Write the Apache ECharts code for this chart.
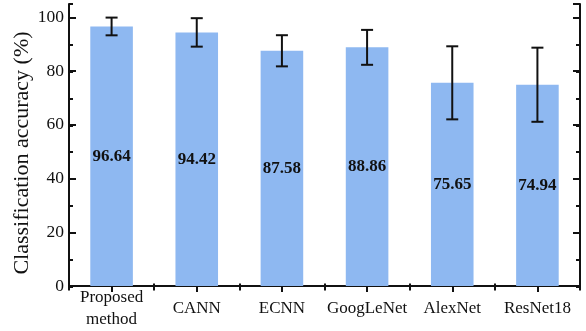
<!DOCTYPE html>
<html>
<head>
<meta charset="utf-8">
<script src="https://cdn.jsdelivr.net/npm/echarts@6/dist/echarts.min.js"></script>
<style>html,body{margin:0;padding:0;background:#fff;}#c{width:586px;height:331px;}</style>
</head>
<body>
<div id="c"></div>
<script>
const categories = ['Proposed\nmethod', 'CANN', 'ECNN', 'GoogLeNet', 'AlexNet', 'ResNet18'];
const accuracy = [96.64, 94.42, 87.58, 88.86, 75.65, 74.94];
const errors = [3.3, 5.3, 5.8, 6.5, 13.6, 13.8];
const yTicks = [0, 20, 40, 60, 80, 100];

const FONT = '"Liberation Serif", "Times New Roman", serif';
const INK = '#111';
const chart = echarts.init(document.getElementById('c'));

const gridRect = {left: 69, right: 6, top: 4, bottom: 44};
const errData = accuracy.map((v, i) => [i, v - errors[i], v + errors[i]]);

const lineStyle = {color: INK, width: 2};

chart.setOption({
  animation: false,
  grid: [Object.assign({}, gridRect), Object.assign({}, gridRect)],
  xAxis: [
    {gridIndex: 0, type: 'category', data: categories, position: 'bottom',
     axisLine: {show: true, lineStyle},
     axisTick: {show: true, inside: true, alignWithLabel: true, length: 6, lineStyle},
     axisLabel: {interval: 0, fontFamily: FONT, fontSize: 17, color: INK, margin: 23, verticalAlign: 'middle', lineHeight: 22}},
    {gridIndex: 0, type: 'category', data: categories, position: 'top',
     axisLine: {show: true, lineStyle},
     axisTick: {show: true, inside: true, alignWithLabel: true, length: 6, lineStyle},
     axisLabel: {show: false}},
    {gridIndex: 1, type: 'category', data: categories, position: 'bottom',
     axisLine: {show: false},
     axisTick: {show: true, inside: true, length: 3.5, lineStyle},
     axisLabel: {show: false}},
    {gridIndex: 1, type: 'category', data: categories, position: 'top',
     axisLine: {show: false},
     axisTick: {show: true, inside: true, length: 3.5, lineStyle},
     axisLabel: {show: false}}
  ],
  yAxis: [
    {gridIndex: 0, type: 'value', min: 0, max: 105, interval: 20, position: 'left',
     name: 'Classification accuracy (%)', nameLocation: 'middle', nameGap: 36, nameMoveOverlap: false,
     nameTextStyle: {fontFamily: FONT, fontSize: 22, color: INK, padding: [0, 16, 0, 0]},
     axisLine: {show: true, lineStyle},
     axisTick: {show: true, inside: true, length: 7, lineStyle},
     splitLine: {show: false},
     axisLabel: {fontFamily: FONT, fontSize: 17.5, color: INK, margin: 5, showMaxLabel: false,
                 formatter: v => (yTicks.indexOf(v) >= 0 ? String(v) : '')}},
    {gridIndex: 0, type: 'value', min: 0, max: 105, interval: 20, position: 'right',
     axisLine: {show: true, lineStyle},
     axisTick: {show: true, inside: true, length: 7, lineStyle},
     splitLine: {show: false},
     axisLabel: {show: false}},
    {gridIndex: 1, type: 'value', min: 0, max: 105, interval: 10, position: 'left',
     axisLine: {show: false},
     axisTick: {show: true, inside: true, length: 4, lineStyle},
     splitLine: {show: false}, axisLabel: {show: false}},
    {gridIndex: 1, type: 'value', min: 0, max: 105, interval: 10, position: 'right',
     axisLine: {show: false},
     axisTick: {show: true, inside: true, length: 4, lineStyle},
     splitLine: {show: false}, axisLabel: {show: false}}
  ],
  series: [
    {type: 'bar', xAxisIndex: 0, yAxisIndex: 0, data: accuracy, barWidth: '50%',
     itemStyle: {color: '#8eb8f1'},
     label: {show: true, position: 'inside', fontFamily: FONT, fontSize: 17, fontWeight: 'bold', color: INK,
             formatter: p => p.value.toFixed(2)},
     z: 2},
    {type: 'custom', xAxisIndex: 0, yAxisIndex: 0, data: errData, z: 5,
     renderItem: function (params, api) {
       const x = api.value(0);
       const lo = api.coord([x, api.value(1)]);
       const hi = api.coord([x, api.value(2)]);
       const hw = 6;
       const st = {stroke: INK, lineWidth: 2};
       return {type: 'group', children: [
         {type: 'line', shape: {x1: lo[0], y1: lo[1], x2: hi[0], y2: hi[1]}, style: st},
         {type: 'line', shape: {x1: lo[0] - hw, y1: lo[1], x2: lo[0] + hw, y2: lo[1]}, style: st},
         {type: 'line', shape: {x1: hi[0] - hw, y1: hi[1], x2: hi[0] + hw, y2: hi[1]}, style: st}
       ]};
     }}
  ]
});
</script>
</body>
</html>
